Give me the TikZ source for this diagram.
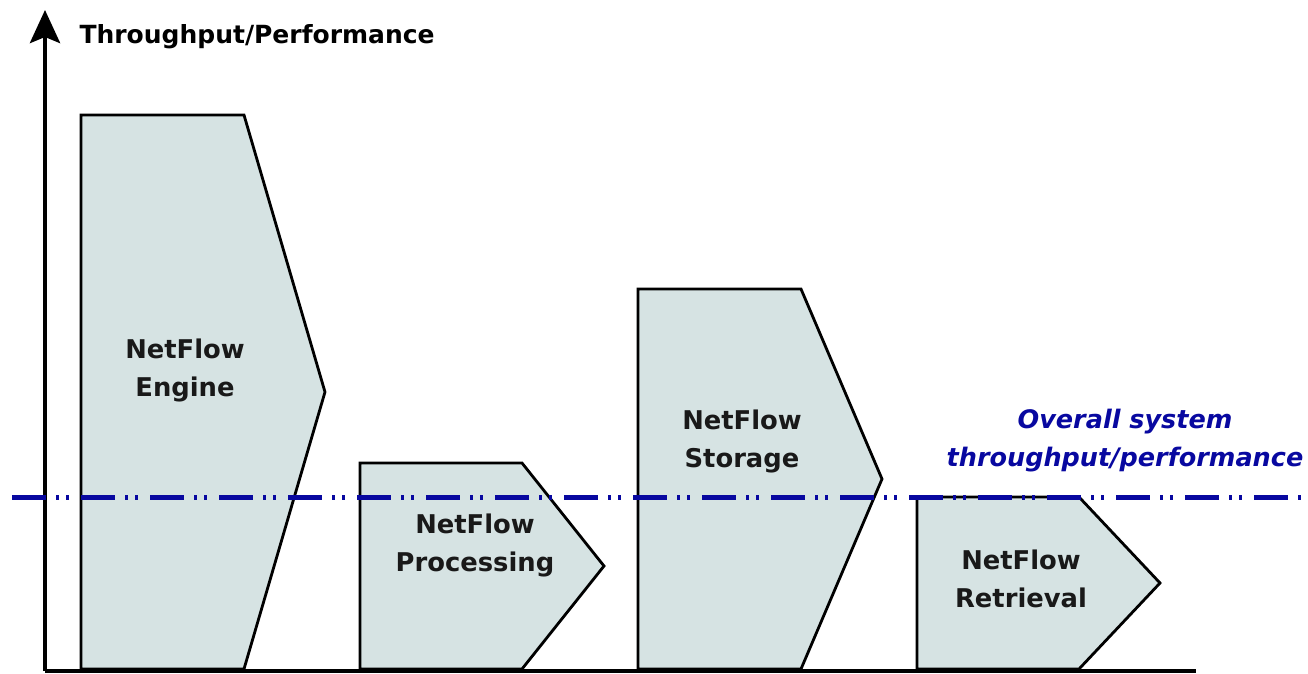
\documentclass[tikz,border=0pt]{standalone}
\usepackage{fontspec}
\setmainfont{DejaVu Sans}
\usetikzlibrary{arrows.meta}
\definecolor{stagefill}{RGB}{214,227,227}
\definecolor{limitblue}{RGB}{8,8,160}
\tikzset{
  stage/.style={draw=black, line width=2.8pt, fill=stagefill, line join=miter},
  stagelabel/.style={font=\fontsize{25.8}{38}\selectfont\bfseries, align=center, text=black!90},
  axis/.style={line width=4.5pt},
  limitline/.style={draw=limitblue, line width=5pt,
    dash pattern=on 34pt off 10pt on 3pt off 7pt on 3pt off 12pt},
  limitlabel/.style={font=\fontsize{25.5}{38}\selectfont\bfseries\itshape, align=center, text=limitblue}
}
\begin{document}
\begin{tikzpicture}[x=1pt,y=-1pt]
\useasboundingbox (0,0) rectangle (1308,673);

% axes
\coordinate (origin) at (45,671);
\coordinate (ytop) at (45,10);
\coordinate (xend) at (1196,671);
\draw[axis] (origin) -- (xend);
\draw[axis,-{Stealth[length=33pt,width=30pt,inset=6pt]}] (origin) -- (ytop);
\node[font=\fontsize{25}{30}\selectfont\bfseries, anchor=west] (ylabel) at (76,37) {Throughput/Performance};

% pipeline stages: left edge, top, flat top end, tip
\draw[stage] (81,669) -- (81,115) -- (244,115) -- (325,392) -- (244,669) -- cycle;
\draw[stage] (360,669) -- (360,463) -- (522,463) -- (604,566) -- (522,669) -- cycle;
\draw[stage] (638,669) -- (638,289) -- (801,289) -- (882,479) -- (801,669) -- cycle;
\draw[stage] (917,669) -- (917,497) -- (1079,497) -- (1160,583) -- (1079,669) -- cycle;

\node[stagelabel] (engine) at (185,370) {NetFlow\\Engine};
\node[stagelabel] (processing) at (475,545) {NetFlow\\Processing};
\node[stagelabel] (storage) at (742,441) {NetFlow\\Storage};
\node[stagelabel] (retrieval) at (1021,579) {NetFlow\\Retrieval};

% overall system limit
\coordinate (limstart) at (12,497);
\coordinate (limend) at (1301,497);
\draw[limitline] (limstart) -- (limend);
\node[limitlabel] (limit) at (1125,441) {Overall system\\throughput/performance};
\end{tikzpicture}
\end{document}
